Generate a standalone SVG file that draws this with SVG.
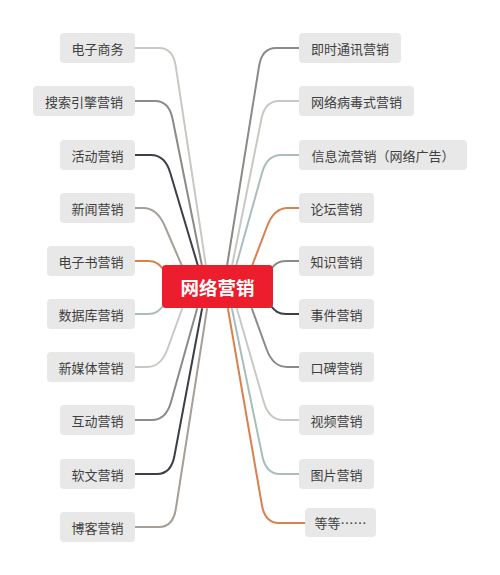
<svg xmlns="http://www.w3.org/2000/svg" width="500" height="575" viewBox="0 0 500 575">
<style>
.n rect{fill:#e8e8e8;}
.n text{font-family:"Noto Sans CJK SC","Noto Sans",sans-serif;font-size:13px;fill:#3f3f3f;text-anchor:middle;dominant-baseline:central;}
#c rect{fill:#ec1d2d;}
#c text{font-family:"Noto Sans CJK SC","Noto Sans",sans-serif;font-size:18.5px;font-weight:bold;fill:#ffffff;text-anchor:middle;dominant-baseline:central;}
.e path{fill:none;stroke-width:2;stroke-linecap:round;stroke-linejoin:round;}
.lg{stroke:#c9c9c3;}
.mg{stroke:#8a8a86;}
.dk{stroke:#3b3f48;}
.br{stroke:#a69f98;}
.or{stroke:#d8814f;}
.tl{stroke:#a9bebb;}
</style>
<rect width="500" height="575" fill="#ffffff"/>
<g id="connectors" class="e">
<path class="lg" d="M135,48 H159 Q173,48 175.7,66 L206,266"/>
<path class="mg" d="M135,101 H155 Q169,101 172.6,119 L202,266"/>
<path class="dk" d="M135,155 H151 Q165,155 170.3,173 L198,266"/>
<path class="br" d="M135,208 H143 Q157,208 164.8,226 L182,266"/>
<path class="or" d="M135,261 H148 C158,261 160,266 166,272"/>
<path class="tl" d="M135,314 H148 C158,314 160,309 166,303"/>
<path class="lg" d="M135,367 H147 Q161,367 167.5,349 L182,309"/>
<path class="mg" d="M135,420 H152 Q166,420 171,402 L197,309"/>
<path class="dk" d="M135,474 H157 Q171,474 174.4,456 L202,309"/>
<path class="br" d="M135,527 H159 Q173,527 175.8,509 L207,309"/>
<path class="mg" d="M299,48 H276 Q262,48 259.1,66 L227,266"/>
<path class="lg" d="M299,101 H279 Q265,101 261.4,119 L232,266"/>
<path class="tl" d="M299,155 H281 Q267,155 262,173 L236,266"/>
<path class="or" d="M299,208 H288 Q274,208 267.2,226 L252,266"/>
<path class="mg" d="M299,261 H286 C276,261 274,266 268,272"/>
<path class="dk" d="M299,314 H286 C276,314 274,309 268,303"/>
<path class="mg" d="M299,367 H287 Q273,367 266.5,349 L252,309"/>
<path class="lg" d="M299,420 H283 Q269,420 263.8,402 L237,309"/>
<path class="tl" d="M299,474 H280 Q266,474 262.3,456 L232,309"/>
<path class="or" d="M305,523 H279 Q265,523 261.9,505 L228,309"/>
</g>
<g id="c"><rect x="162" y="265" width="111" height="43" rx="4"/><text x="217.5" y="287">网络营销</text></g>
<g id="l1" class="n"><rect x="60" y="33" width="75" height="30" rx="4"/><text x="97.5" y="48">电子商务</text></g>
<g id="l2" class="n"><rect x="33" y="86" width="102" height="30" rx="4"/><text x="84" y="101">搜索引擎营销</text></g>
<g id="l3" class="n"><rect x="60" y="140" width="75" height="30" rx="4"/><text x="97.5" y="155">活动营销</text></g>
<g id="l4" class="n"><rect x="60" y="193" width="75" height="30" rx="4"/><text x="97.5" y="208">新闻营销</text></g>
<g id="l5" class="n"><rect x="47" y="246" width="88" height="30" rx="4"/><text x="91" y="261">电子书营销</text></g>
<g id="l6" class="n"><rect x="47" y="299" width="88" height="30" rx="4"/><text x="91" y="314">数据库营销</text></g>
<g id="l7" class="n"><rect x="47" y="352" width="88" height="30" rx="4"/><text x="91" y="367">新媒体营销</text></g>
<g id="l8" class="n"><rect x="60" y="405" width="75" height="30" rx="4"/><text x="97.5" y="420">互动营销</text></g>
<g id="l9" class="n"><rect x="60" y="459" width="75" height="30" rx="4"/><text x="97.5" y="474">软文营销</text></g>
<g id="l10" class="n"><rect x="60" y="512" width="75" height="30" rx="4"/><text x="97.5" y="527">博客营销</text></g>
<g id="r1" class="n"><rect x="299" y="33" width="102" height="30" rx="4"/><text x="350" y="48">即时通讯营销</text></g>
<g id="r2" class="n"><rect x="299" y="86" width="115" height="30" rx="4"/><text x="356.5" y="101">网络病毒式营销</text></g>
<g id="r3" class="n"><rect x="299" y="140" width="168" height="30" rx="4"/><text x="383" y="155">信息流营销（网络广告）</text></g>
<g id="r4" class="n"><rect x="299" y="193" width="75" height="30" rx="4"/><text x="336.5" y="208">论坛营销</text></g>
<g id="r5" class="n"><rect x="299" y="246" width="75" height="30" rx="4"/><text x="336.5" y="261">知识营销</text></g>
<g id="r6" class="n"><rect x="299" y="299" width="75" height="30" rx="4"/><text x="336.5" y="314">事件营销</text></g>
<g id="r7" class="n"><rect x="299" y="352" width="75" height="30" rx="4"/><text x="336.5" y="367">口碑营销</text></g>
<g id="r8" class="n"><rect x="299" y="405" width="75" height="30" rx="4"/><text x="336.5" y="420">视频营销</text></g>
<g id="r9" class="n"><rect x="299" y="459" width="75" height="30" rx="4"/><text x="336.5" y="474">图片营销</text></g>
<g id="r10" class="n"><rect x="305" y="508" width="71" height="29" rx="4"/><text x="340.5" y="522.5">等等……</text></g>
</svg>
